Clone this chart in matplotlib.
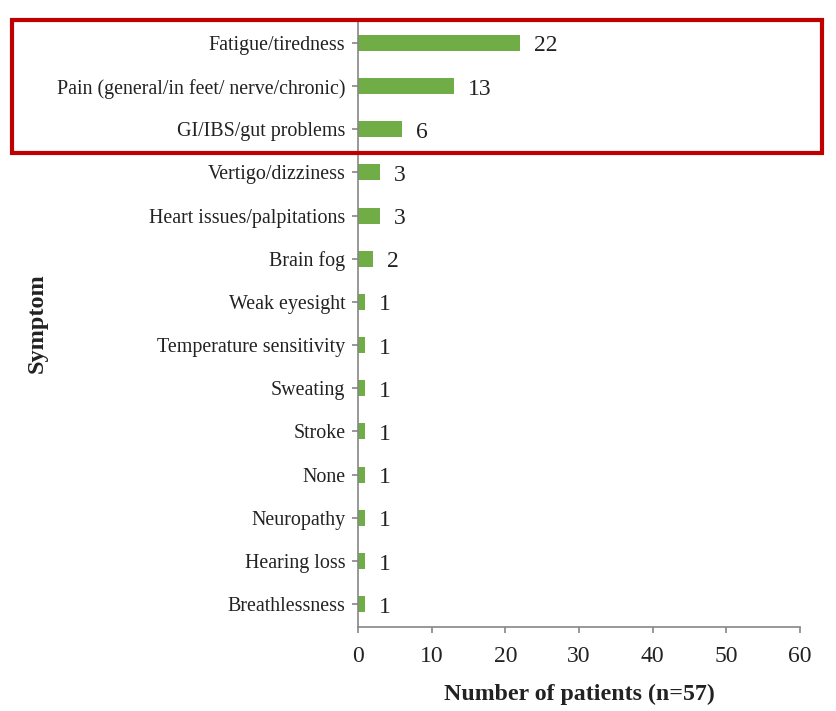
import matplotlib
matplotlib.use("Agg")
import matplotlib.pyplot as plt
from matplotlib.patches import Rectangle

plt.rcParams['font.family'] = ['Liberation Serif', 'DejaVu Serif']

symptoms = ["Fatigue/tiredness", "Pain (general/in feet/ nerve/chronic)", "GI/IBS/gut problems",
            "Vertigo/dizziness", "Heart issues/palpitations", "Brain fog", "Weak eyesight",
            "Temperature sensitivity", "Sweating", "Stroke", "None", "Neuropathy",
            "Hearing loss", "Breathlessness"]
counts = [22, 13, 6, 3, 3, 2, 1, 1, 1, 1, 1, 1, 1, 1]
xticks = [0, 10, 20, 30, 40, 50, 60]

fig = plt.figure(figsize=(8.37, 7.11), dpi=100)
ax = fig.add_axes([358/837, 84/711, 442/837, 607/711])

n = len(symptoms)
ypos = [n - 1 - i for i in range(n)]
ax.barh(ypos, counts, height=0.37, color='#70AD47')
for y, v in zip(ypos, counts):
    ax.annotate(str(v), (v, y), xytext=(10, -2.2), textcoords='offset points',
                va='center', ha='left', fontsize=17, color='#222222')

ax.set_xlim(0, 60)
ax.set_ylim(-0.53, n - 0.47)
ax.set_xticks(xticks)
ax.set_xticklabels([str(t) for t in xticks], fontsize=17, color='#222222')
ax.set_yticks(ypos)
ax.set_yticklabels(symptoms, fontsize=14.4, color='#222222')
for s in ['top', 'right']:
    ax.spines[s].set_visible(False)
for s in ['left', 'bottom']:
    ax.spines[s].set_color('#868686')
    ax.spines[s].set_linewidth(1.2)
ax.tick_params(axis='both', color='#868686', length=4, width=1.2)
ax.tick_params(axis='x', pad=10)
ax.tick_params(axis='y', pad=5)
ax.set_xlabel('Number of patients (n=57)', fontsize=17.2, fontweight='bold', color='#222222', labelpad=12)
ax.set_ylabel('Symptom', fontsize=17.5, fontweight='bold', color='#222222')
ax.yaxis.set_label_coords(-310/442, 0.5)

fig.patches.append(Rectangle((12/837, (711-153)/711), 810/837, 133/711, transform=fig.transFigure,
                             fill=False, edgecolor='#C00000', linewidth=3))

fig.savefig('out.png', dpi=100)
